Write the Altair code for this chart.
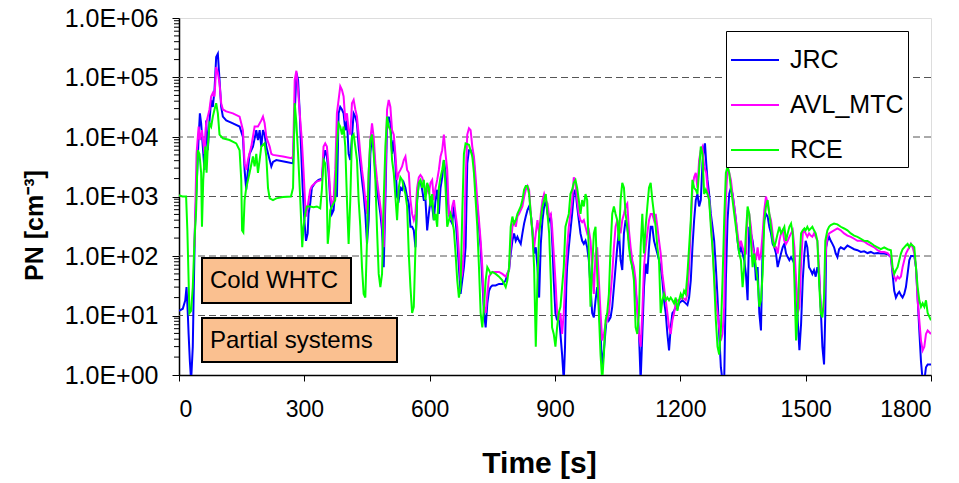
import altair as alt
import pandas as pd

series_names = ["JRC", "AVL_MTC", "RCE"]
series_colors = ["#0000FF", "#FF00FF", "#00FF00"]

jrc_t = [0, 9, 15, 18, 21, 23, 26, 29, 33, 35, 38, 42, 47, 50, 53, 57, 61, 65, 69, 73, 77, 81, 85, 89, 93, 97, 101, 105, 113, 129, 145, 153, 157, 161, 165, 169, 177, 185, 189, 193, 197, 201, 205, 209, 217, 221, 225, 233, 257, 273, 277, 281, 285, 289, 292, 296, 300, 304, 308, 310, 314, 318, 326, 334, 342, 346, 350, 354, 358, 362, 366, 370, 374, 378, 382, 386, 390, 394, 398, 402, 406, 410, 414, 418, 422, 426, 430, 434, 438, 442, 446, 450, 454, 458, 462, 466, 470, 474, 482, 486, 490, 494, 498, 502, 506, 510, 514, 518, 522, 526, 530, 534, 538, 542, 546, 550, 554, 558, 562, 566, 570, 574, 578, 582, 586, 590, 594, 598, 602, 606, 610, 614, 618, 622, 626, 630, 634, 638, 642, 646, 650, 654, 658, 662, 666, 670, 674, 678, 682, 686, 690, 694, 698, 702, 706, 710, 714, 718, 722, 726, 730, 734, 738, 742, 746, 750, 758, 766, 774, 782, 786, 790, 794, 798, 802, 806, 810, 814, 818, 822, 826, 830, 834, 838, 842, 846, 850, 854, 858, 862, 866, 870, 874, 878, 882, 886, 890, 894, 897, 901, 905, 909, 913, 917, 921, 924, 927, 929, 933, 937, 941, 945, 949, 953, 957, 961, 965, 969, 973, 977, 981, 985, 989, 993, 997, 1001, 1005, 1009, 1013, 1017, 1021, 1025, 1029, 1033, 1037, 1041, 1045, 1049, 1053, 1057, 1061, 1065, 1069, 1073, 1077, 1081, 1085, 1089, 1093, 1097, 1101, 1105, 1109, 1113, 1117, 1121, 1125, 1129, 1133, 1137, 1141, 1145, 1149, 1153, 1157, 1161, 1165, 1169, 1173, 1177, 1181, 1185, 1189, 1193, 1197, 1205, 1213, 1217, 1221, 1225, 1229, 1233, 1237, 1241, 1245, 1249, 1253, 1257, 1259, 1262, 1265, 1269, 1273, 1277, 1281, 1285, 1289, 1293, 1297, 1301, 1305, 1309, 1313, 1317, 1321, 1325, 1329, 1333, 1337, 1341, 1345, 1349, 1353, 1357, 1361, 1365, 1369, 1373, 1377, 1381, 1385, 1389, 1393, 1397, 1401, 1405, 1409, 1413, 1417, 1421, 1425, 1429, 1433, 1437, 1441, 1445, 1449, 1453, 1457, 1461, 1465, 1469, 1473, 1477, 1481, 1485, 1489, 1493, 1497, 1500, 1504, 1508, 1512, 1516, 1520, 1524, 1528, 1532, 1536, 1540, 1544, 1547, 1549, 1552, 1556, 1560, 1564, 1568, 1572, 1576, 1580, 1584, 1592, 1600, 1608, 1616, 1624, 1632, 1640, 1648, 1656, 1664, 1672, 1680, 1688, 1696, 1704, 1708, 1712, 1716, 1720, 1724, 1728, 1732, 1736, 1740, 1744, 1748, 1752, 1760, 1764, 1768, 1772, 1776, 1780, 1784, 1788, 1792, 1800]
jrc_pn = [12, 13, 18, 30, 11, 4.9, 1.7, 0.8, 3.0, 20, 270, 1400, 10000, 25000, 17000, 6900, 2800, 19000, 6000, 19000, 42000, 32000, 62000, 220000, 250000, 91000, 32000, 22000, 19000, 17000, 15000, 10000, 2800, 1300, 2800, 5200, 6900, 13000, 8900, 13000, 6900, 13000, 11000, 6900, 4100, 3200, 3800, 4100, 3800, 3600, 25000, 120000, 91000, 25000, 6900, 1400, 400, 180, 240, 510, 760, 1400, 1700, 1900, 2000, 4100, 6000, 4700, 2500, 870, 510, 590, 1300, 980, 25000, 32000, 29000, 25000, 13000, 19000, 5200, 4100, 10000, 25000, 22000, 17000, 6900, 3600, 1900, 1100, 510, 160, 400, 5200, 11000, 6900, 2500, 1300, 510, 270, 65, 870, 17000, 22000, 17000, 5200, 8900, 3600, 980, 870, 1400, 1300, 1700, 1400, 980, 760, 310, 310, 270, 140, 870, 1700, 1800, 1300, 870, 870, 270, 510, 870, 680, 400, 870, 1300, 510, 1400, 2100, 4100, 2500, 1100, 510, 400, 350, 680, 400, 180, 65, 23, 39, 65, 140, 3600, 6000, 6000, 5200, 3600, 1400, 680, 310, 140, 39, 11, 6.3, 16, 26, 30, 32, 32, 34, 34, 39, 50, 58, 110, 180, 240, 180, 210, 180, 160, 240, 350, 460, 590, 680, 510, 270, 110, 140, 65, 20, 160, 400, 680, 870, 510, 400, 510, 140, 39, 11, 8.3, 11, 4.9, 2.2, 0.8, 3.0, 30, 65, 140, 270, 510, 1100, 1300, 680, 400, 240, 180, 160, 180, 140, 85, 30, 11, 9.3, 18, 30, 16, 4.9, 1.35, 2.6, 5.6, 11, 8.3, 9.3, 14, 30, 65, 140, 270, 85, 58, 240, 400, 310, 180, 110, 65, 50, 26, 14, 4.9, 0.8, 4.9, 30, 74, 50, 140, 310, 310, 180, 140, 110, 85, 65, 39, 18, 11, 4.9, 2.6, 6.3, 11, 12, 14, 13, 16, 18, 16, 15, 20, 39, 140, 400, 870, 1100, 680, 870, 3600, 6900, 7800, 3600, 1900, 1100, 510, 310, 180, 65, 20, 4.9, 1.35, 0.8, 0.8, 39, 400, 1100, 1400, 1100, 680, 400, 180, 110, 140, 110, 85, 50, 18, 310, 240, 180, 110, 39, 65, 11, 5.6, 140, 400, 510, 460, 310, 240, 160, 140, 110, 65, 85, 110, 140, 160, 110, 96, 85, 96, 85, 74, 30, 8.3, 2.6, 7.2, 39, 110, 180, 140, 65, 58, 50, 58, 45, 65, 50, 14, 3.0, 1.5, 11, 140, 180, 210, 180, 160, 140, 110, 96, 130, 140, 130, 150, 140, 130, 125, 117, 120, 112, 117, 110, 112, 110, 110, 107, 96, 50, 26, 20, 23, 25, 22, 20, 23, 30, 50, 85, 100, 100, 65, 20, 5.6, 1.7, 0.8, 0.8, 1.35, 1.5, 1.5]

avl_t = [37, 42, 47, 50, 55, 61, 65, 73, 77, 81, 85, 89, 93, 97, 101, 105, 113, 129, 145, 149, 153, 157, 161, 165, 173, 181, 189, 197, 201, 205, 209, 217, 221, 225, 249, 269, 273, 277, 281, 285, 289, 294, 298, 302, 304, 308, 314, 318, 330, 342, 346, 350, 354, 358, 362, 366, 370, 374, 378, 382, 386, 390, 394, 398, 402, 406, 410, 414, 418, 422, 426, 430, 434, 438, 442, 446, 450, 454, 458, 462, 466, 470, 474, 482, 486, 490, 494, 498, 502, 506, 510, 514, 518, 522, 526, 530, 534, 538, 542, 546, 550, 554, 558, 562, 566, 570, 574, 578, 582, 586, 590, 594, 598, 602, 606, 610, 614, 618, 622, 626, 630, 634, 638, 642, 646, 650, 654, 658, 662, 666, 670, 674, 678, 682, 686, 690, 694, 698, 702, 706, 710, 714, 718, 722, 726, 730, 734, 738, 742, 746, 750, 766, 774, 782, 790, 794, 798, 802, 806, 810, 814, 818, 822, 826, 830, 834, 838, 842, 846, 850, 854, 858, 862, 866, 870, 874, 878, 882, 886, 890, 893, 897, 901, 905, 909, 913, 917, 921, 925, 929, 933, 937, 941, 945, 949, 953, 957, 961, 965, 969, 973, 977, 981, 985, 989, 993, 997, 1001, 1005, 1009, 1013, 1017, 1021, 1025, 1029, 1033, 1037, 1041, 1045, 1049, 1053, 1057, 1061, 1065, 1069, 1073, 1077, 1081, 1085, 1089, 1093, 1097, 1101, 1105, 1109, 1113, 1117, 1121, 1125, 1129, 1133, 1137, 1141, 1145, 1149, 1153, 1157, 1161, 1165, 1169, 1173, 1177, 1181, 1185, 1189, 1193, 1197, 1205, 1213, 1217, 1221, 1225, 1229, 1233, 1237, 1241, 1245, 1249, 1253, 1257, 1262, 1265, 1269, 1273, 1277, 1281, 1285, 1289, 1293, 1297, 1301, 1305, 1309, 1313, 1317, 1321, 1325, 1329, 1333, 1337, 1341, 1345, 1349, 1353, 1357, 1361, 1365, 1369, 1373, 1377, 1381, 1385, 1389, 1393, 1397, 1401, 1405, 1409, 1413, 1417, 1421, 1425, 1429, 1433, 1437, 1441, 1445, 1449, 1453, 1457, 1461, 1465, 1469, 1473, 1477, 1481, 1485, 1489, 1493, 1497, 1500, 1504, 1508, 1512, 1516, 1520, 1524, 1528, 1532, 1536, 1540, 1544, 1547, 1549, 1552, 1556, 1560, 1568, 1576, 1584, 1592, 1600, 1608, 1616, 1624, 1632, 1640, 1648, 1656, 1664, 1672, 1680, 1688, 1696, 1704, 1708, 1712, 1716, 1720, 1724, 1728, 1732, 1736, 1740, 1744, 1748, 1752, 1756, 1760, 1764, 1768, 1772, 1776, 1780, 1784, 1788, 1792, 1800]
avl_pn = [140, 5200, 15000, 8900, 13000, 5200, 17000, 29000, 48000, 55000, 48000, 150000, 120000, 79000, 37000, 29000, 27000, 25000, 22000, 17000, 13000, 3600, 2800, 4100, 6900, 15000, 15000, 19000, 22000, 17000, 10000, 6900, 5200, 5000, 4700, 4400, 4700, 91000, 130000, 62000, 25000, 8900, 2800, 760, 460, 680, 1300, 1500, 1800, 1900, 6900, 7800, 6900, 3200, 1100, 680, 870, 2800, 25000, 42000, 71000, 62000, 48000, 19000, 25000, 13000, 11000, 37000, 42000, 29000, 22000, 11000, 5200, 2800, 1700, 870, 510, 2500, 8900, 17000, 10000, 3600, 1900, 680, 400, 140, 1900, 29000, 42000, 32000, 13000, 11000, 5200, 1900, 2500, 2800, 3200, 4100, 4700, 2800, 2500, 870, 510, 400, 510, 1400, 2100, 2300, 2100, 1700, 1100, 1400, 1100, 1700, 1900, 870, 1400, 1900, 2800, 4700, 6000, 11000, 5200, 2800, 510, 400, 680, 870, 510, 310, 110, 39, 50, 140, 1900, 11000, 14000, 13000, 6900, 4700, 2100, 870, 400, 180, 65, 14, 11, 23, 45, 50, 54, 54, 50, 45, 58, 140, 310, 400, 310, 460, 510, 590, 680, 980, 1300, 1500, 1300, 510, 270, 140, 240, 400, 240, 510, 870, 1100, 870, 760, 460, 510, 310, 110, 39, 11, 8.3, 11, 4.9, 11, 50, 140, 310, 510, 870, 2100, 1700, 870, 510, 400, 370, 400, 310, 240, 270, 180, 65, 23, 110, 140, 39, 11, 3.8, 4.9, 7.2, 8.3, 11, 23, 50, 140, 310, 400, 310, 240, 400, 510, 680, 760, 270, 140, 85, 65, 39, 11, 4.9, 3.0, 11, 65, 140, 240, 400, 510, 510, 400, 510, 310, 180, 110, 50, 30, 18, 11, 6.3, 4.9, 8.3, 11, 16, 18, 18, 20, 18, 23, 65, 310, 1400, 2100, 2500, 1400, 4100, 6000, 6900, 3200, 2500, 1400, 870, 400, 140, 50, 18, 11, 6.3, 3.8, 4.9, 14, 870, 3200, 2500, 1900, 1100, 680, 400, 240, 140, 180, 140, 110, 110, 590, 510, 310, 140, 110, 85, 140, 85, 110, 240, 590, 1000, 760, 510, 400, 240, 140, 140, 110, 180, 240, 270, 180, 160, 180, 210, 240, 270, 140, 39, 11, 14, 74, 240, 270, 240, 210, 240, 220, 210, 240, 210, 180, 65, 14, 11, 14, 74, 140, 210, 240, 250, 270, 290, 270, 240, 220, 210, 195, 180, 180, 175, 160, 150, 140, 125, 117, 117, 112, 96, 58, 45, 39, 45, 42, 45, 65, 85, 110, 125, 140, 160, 140, 110, 65, 18, 8.3, 3.8, 2.6, 3.0, 4.9, 5.6, 4.9]

rce_t = [0, 8, 17, 20, 25, 29, 33, 37, 41, 45, 49, 53, 55, 58, 63, 66, 69, 73, 77, 81, 85, 89, 93, 97, 105, 121, 137, 145, 149, 151, 154, 157, 161, 169, 177, 181, 185, 189, 193, 197, 205, 209, 213, 217, 225, 233, 249, 268, 273, 277, 281, 285, 290, 295, 298, 302, 306, 314, 322, 330, 338, 342, 346, 350, 354, 356, 360, 362, 366, 374, 378, 382, 386, 390, 394, 398, 402, 406, 410, 414, 418, 422, 426, 430, 434, 438, 442, 446, 450, 454, 458, 462, 466, 470, 474, 478, 482, 486, 490, 494, 498, 502, 506, 510, 514, 518, 522, 526, 530, 534, 538, 542, 546, 550, 554, 558, 562, 566, 570, 574, 578, 582, 586, 590, 594, 598, 602, 606, 610, 614, 618, 622, 626, 630, 634, 638, 642, 646, 650, 654, 658, 662, 666, 670, 674, 678, 682, 686, 694, 702, 706, 710, 714, 718, 722, 726, 730, 734, 738, 742, 746, 750, 758, 766, 774, 782, 786, 790, 794, 798, 802, 806, 810, 814, 818, 822, 826, 830, 834, 838, 842, 846, 850, 854, 858, 862, 866, 870, 874, 878, 882, 886, 890, 893, 897, 901, 905, 909, 913, 917, 921, 925, 929, 933, 937, 941, 945, 949, 953, 957, 961, 965, 969, 973, 977, 981, 985, 989, 993, 997, 1001, 1005, 1009, 1013, 1017, 1021, 1025, 1029, 1033, 1037, 1041, 1045, 1049, 1053, 1057, 1061, 1065, 1069, 1073, 1077, 1081, 1085, 1089, 1093, 1097, 1101, 1105, 1109, 1113, 1117, 1121, 1125, 1129, 1133, 1137, 1141, 1145, 1149, 1153, 1157, 1161, 1165, 1169, 1173, 1177, 1181, 1185, 1189, 1193, 1197, 1201, 1205, 1209, 1213, 1217, 1221, 1225, 1229, 1233, 1237, 1241, 1245, 1249, 1253, 1257, 1261, 1265, 1269, 1273, 1277, 1281, 1285, 1289, 1293, 1297, 1301, 1305, 1309, 1313, 1317, 1321, 1325, 1329, 1333, 1337, 1341, 1345, 1349, 1353, 1357, 1361, 1365, 1369, 1373, 1377, 1381, 1385, 1389, 1393, 1397, 1401, 1405, 1409, 1413, 1417, 1421, 1425, 1429, 1433, 1437, 1441, 1445, 1449, 1453, 1457, 1461, 1465, 1469, 1473, 1477, 1481, 1485, 1489, 1493, 1497, 1500, 1504, 1508, 1516, 1520, 1524, 1528, 1532, 1536, 1540, 1544, 1547, 1552, 1556, 1560, 1568, 1576, 1584, 1592, 1600, 1608, 1616, 1624, 1632, 1640, 1648, 1656, 1664, 1672, 1680, 1688, 1696, 1704, 1708, 1712, 1716, 1720, 1724, 1728, 1732, 1736, 1740, 1744, 1748, 1752, 1760, 1764, 1768, 1772, 1776, 1780, 1784, 1788, 1792, 1800]
rce_pn = [1050, 1000, 1000, 270, 11, 12, 30, 180, 590, 6000, 5200, 2500, 310, 1900, 6900, 2500, 6900, 17000, 15000, 22000, 29000, 37000, 25000, 11000, 9500, 8900, 7800, 6000, 1900, 270, 250, 870, 1400, 2500, 4700, 3200, 5200, 2500, 4100, 6900, 7800, 4700, 1400, 930, 870, 930, 980, 1000, 1400, 37000, 17000, 5200, 980, 140, 310, 510, 680, 680, 660, 680, 630, 1300, 4100, 3600, 870, 160, 310, 590, 680, 870, 6900, 17000, 15000, 11000, 15000, 6900, 870, 160, 870, 10000, 11000, 6900, 4100, 870, 310, 65, 23, 20, 180, 2500, 8900, 11000, 5200, 1900, 270, 50, 30, 50, 870, 6900, 22000, 15000, 13000, 4100, 2500, 980, 400, 1400, 2100, 1900, 1400, 1100, 680, 110, 30, 11, 14, 140, 870, 1700, 1900, 1400, 1900, 870, 1700, 1400, 680, 1100, 400, 510, 310, 1400, 2100, 2800, 4100, 1400, 310, 400, 510, 400, 270, 110, 39, 20, 30, 510, 5200, 7800, 7400, 4700, 2500, 870, 310, 65, 11, 6.3, 14, 39, 65, 58, 50, 54, 50, 45, 39, 30, 39, 65, 310, 460, 350, 400, 510, 590, 680, 870, 1300, 1500, 1500, 1100, 510, 240, 65, 3.0, 39, 240, 400, 680, 870, 1100, 510, 240, 39, 6.3, 4.9, 3.0, 6.3, 11, 14, 30, 65, 310, 400, 510, 1100, 1300, 1700, 1900, 1400, 870, 510, 870, 680, 1100, 870, 110, 14, 65, 240, 310, 50, 11, 2.2, 0.8, 2.2, 8.3, 11, 23, 140, 510, 680, 510, 400, 180, 870, 1700, 1400, 510, 310, 140, 85, 65, 39, 6.3, 4.9, 11, 140, 510, 110, 310, 680, 1400, 1700, 870, 510, 310, 140, 85, 11, 18, 23, 18, 20, 18, 20, 18, 16, 20, 12, 18, 23, 20, 26, 23, 50, 140, 400, 1900, 1400, 1300, 1100, 2800, 6900, 5200, 1100, 1300, 1100, 870, 310, 140, 39, 8.3, 3.0, 2.2, 5.6, 39, 400, 2500, 3200, 2500, 1400, 870, 510, 310, 180, 110, 85, 30, 65, 240, 680, 510, 180, 65, 110, 65, 39, 14, 18, 50, 400, 680, 870, 510, 310, 180, 140, 180, 240, 310, 240, 270, 310, 180, 240, 310, 350, 240, 39, 3.8, 11, 65, 240, 270, 290, 270, 310, 270, 310, 270, 240, 180, 39, 11, 9.3, 20, 180, 270, 310, 330, 350, 340, 310, 290, 270, 240, 220, 210, 195, 180, 178, 165, 150, 140, 130, 140, 130, 125, 65, 50, 58, 65, 85, 110, 130, 140, 150, 160, 140, 160, 140, 65, 30, 18, 14, 16, 14, 18, 11, 8.3]

time_ticks = [0, 300, 600, 900, 1200, 1500, 1800]
decade_ticks = [1, 10, 100, 1000, 10000, 100000, 1000000]
grid_levels = [10, 100, 1000, 10000, 100000]
minor_levels = [m * d for d in [1, 10, 100, 1000, 10000, 100000] for m in range(2, 10)]

rows = []
for name, ts, vs in [("JRC", jrc_t, jrc_pn), ("AVL_MTC", avl_t, avl_pn), ("RCE", rce_t, rce_pn)]:
    for t, v in zip(ts, vs):
        rows.append({"series": name, "t": t, "pn": v})
df = pd.DataFrame(rows)

FONT = "Liberation Sans"
x_scale = alt.Scale(domain=[0, 1800], nice=False, zero=False)
y_scale = alt.Scale(type="log", domain=[1, 1000000], nice=False)

y_axis = alt.Axis(
    values=decade_ticks, labelExpr="'1.0E+0' + round(log(datum.value) / LN10)",
    title="PN [cm\u207b\u00b3]", grid=False,
    labelFont=FONT, labelFontSize=25, labelColor="black", labelPadding=14,
    tickSize=7, tickColor="black", domainColor="black", domainWidth=1.5,
    titleFont=FONT, titleFontSize=25, titleFontWeight="bold", titleColor="black",
    titleX=-145, titleY=207, titleBaseline="middle", titleAlign="center")

x_axis = alt.Axis(
    values=time_ticks, format="d", title="Time [s]", grid=False,
    labelFont=FONT, labelFontSize=23, labelColor="black",
    labelPadding=17, tickSize=6, tickColor="black", domainColor="black", domainWidth=1.5,
    titleFont=FONT, titleFontSize=30, titleFontWeight="bold", titleColor="black",
    titleX=360, titleY=88, titleBaseline="middle")

grid = alt.Chart(pd.DataFrame({"g": grid_levels})).mark_rule(
    strokeDash=[7, 4], color="#555555", strokeWidth=1
).encode(y=alt.Y("g:Q", scale=y_scale, axis=y_axis))

minor = alt.Chart(pd.DataFrame({"m": minor_levels})).mark_rule(
    color="black", strokeWidth=1
).encode(y=alt.Y("m:Q", scale=y_scale, axis=y_axis), x=alt.value(-5), x2=alt.value(0))

lines = alt.Chart(df).mark_line(strokeWidth=2, clip=True).encode(
    x=alt.X("t:Q", scale=x_scale, axis=x_axis),
    y=alt.Y("pn:Q", scale=y_scale, axis=y_axis),
    color=alt.Color("series:N", scale=alt.Scale(domain=series_names, range=series_colors),
                    legend=alt.Legend(orient="none", legendX=547, legendY=13, title=None,
                                      symbolType="stroke", symbolSize=2304, symbolStrokeWidth=2,
                                      labelFont=FONT, labelFontSize=25, labelColor="black",
                                      labelOffset=10, rowPadding=7, padding=4,
                                      strokeColor="black", fillColor="white", cornerRadius=0)),
)

one = pd.DataFrame({"k": [0]})
box1 = alt.Chart(one).mark_rect(fill="#FAC090", stroke="black", strokeWidth=2).encode(
    x=alt.value(23), x2=alt.value(172), y=alt.value(240), y2=alt.value(285))
box2 = alt.Chart(one).mark_rect(fill="#FAC090", stroke="black", strokeWidth=2).encode(
    x=alt.value(23), x2=alt.value(218), y=alt.value(300), y2=alt.value(344))
txt1 = alt.Chart(one).mark_text(align="left", baseline="middle", font=FONT, fontSize=24, color="black").encode(
    x=alt.value(31), y=alt.value(263), text=alt.value("Cold WHTC"))
txt2 = alt.Chart(one).mark_text(align="left", baseline="middle", font=FONT, fontSize=24, color="black").encode(
    x=alt.value(31), y=alt.value(323), text=alt.value("Partial systems"))

chart = alt.layer(grid, minor, lines, box1, box2, txt1, txt2).properties(
    width=752, height=357,
    autosize=alt.AutoSizeParams(type="none"),
    padding={"left": 179, "top": 18, "right": 28, "bottom": 108},
).configure_view(stroke="black", strokeWidth=1.5).configure(background="white")

chart.save("out.html", embed_options={"renderer": "svg", "actions": False})
